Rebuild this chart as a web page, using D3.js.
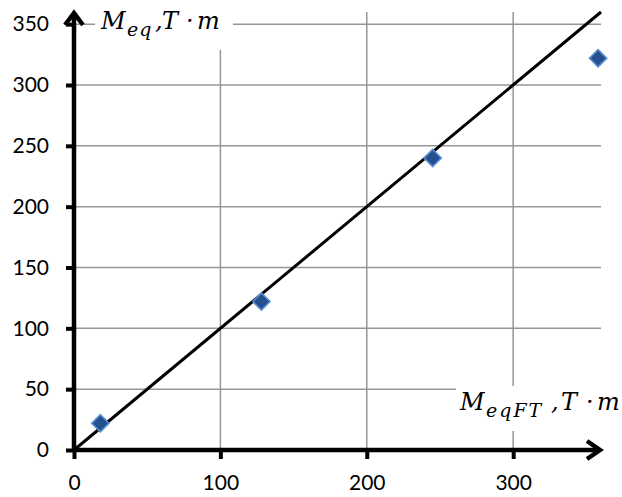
<!DOCTYPE html>
<html>
<head>
<meta charset="utf-8">
<script src="https://cdn.jsdelivr.net/npm/d3@7"></script>
<style>
  body { margin: 0; background: #fff; }
  .tick text { font-family: Lato, sans-serif; font-size: 21px; fill: #000; }
  .lbl { font-family: "DejaVu Serif", serif; font-style: italic; fill: #000; }
</style>
</head>
<body>
<div id="chart"></div>
<script>
'use strict';

// measured points (M_eqFT, M_eq)
var xVals = [18, 128, 245, 358];
var yVals = [22, 122, 240, 322];
// reference line y = x
var refLine = [0, 360];
var xTicks = [0, 100, 200, 300];
var yTicks = [0, 50, 100, 150, 200, 250, 300, 350];

var W = 622, H = 497;
var pL = 74, pR = 601, pT = 12, pB = 450;

var x = d3.scaleLinear().domain([0, 360]).range([pL, pR]);
var y = d3.scaleLinear().domain([0, 360]).range([pB, pT]);

var svg = d3.select('#chart').append('svg')
    .attr('width', W)
    .attr('height', H);

// grid
svg.append('g').selectAll('line')
    .data(yTicks.filter(function(d) { return d > 0; }))
  .enter().append('line')
    .attr('x1', pL).attr('x2', pR)
    .attr('y1', function(d) { return y(d); })
    .attr('y2', function(d) { return y(d); })
    .attr('stroke', '#969696').attr('stroke-width', 1.5);

svg.append('g').selectAll('line')
    .data(xTicks.filter(function(d) { return d > 0; }))
  .enter().append('line')
    .attr('y1', pT).attr('y2', pB)
    .attr('x1', function(d) { return x(d); })
    .attr('x2', function(d) { return x(d); })
    .attr('stroke', '#969696').attr('stroke-width', 1.5);

// white boxes behind the axis titles
svg.append('rect').attr('x', 95).attr('y', 0).attr('width', 138).attr('height', 50).attr('fill', '#fff');
svg.append('rect').attr('x', 456).attr('y', 386).attr('width', 166).attr('height', 45).attr('fill', '#fff');

// y = x line
svg.append('line')
    .attr('x1', x(refLine[0])).attr('y1', y(refLine[0]))
    .attr('x2', x(refLine[1])).attr('y2', y(refLine[1]))
    .attr('stroke', '#000').attr('stroke-width', 3);

// points
var diamond = d3.symbol().type(d3.symbolSquare).size(150);
svg.append('g').selectAll('path')
    .data(xVals)
  .enter().append('path')
    .attr('d', diamond)
    .attr('transform', function(d, i) { return 'translate(' + x(d) + ',' + y(yVals[i]) + ') rotate(45)'; })
    .attr('fill', '#24518E')
    .attr('stroke', '#5B8FD2')
    .attr('stroke-width', 1.6);

// axes with ticks
var xAxis = d3.axisBottom(x).tickValues(xTicks).tickSize(9).tickPadding(16);
var yAxis = d3.axisLeft(y).tickValues(yTicks).tickSize(8).tickPadding(17);

var gx = svg.append('g').attr('transform', 'translate(0,' + pB + ')').call(xAxis);
var gy = svg.append('g').attr('transform', 'translate(' + pL + ',0)').call(yAxis);
[gx, gy].forEach(function(g) {
  g.select('.domain').remove();
  g.selectAll('.tick line').attr('stroke', '#000').attr('stroke-width', 4);
});
gx.selectAll('.tick text').attr('dy', '0.71em');

// thick axis lines + arrows
svg.append('line').attr('x1', pL).attr('y1', pB).attr('x2', pR - 1).attr('y2', pB)
    .attr('stroke', '#000').attr('stroke-width', 4.5);
svg.append('line').attr('x1', pL).attr('y1', pB).attr('x2', pL).attr('y2', pT + 1)
    .attr('stroke', '#000').attr('stroke-width', 4.5);
svg.append('path')
    .attr('d', 'M' + (pR - 14) + ',' + (pB - 9) + 'L' + (pR - 1) + ',' + pB + 'L' + (pR - 14) + ',' + (pB + 9))
    .attr('fill', 'none').attr('stroke', '#000').attr('stroke-width', 4.5).attr('stroke-linejoin', 'miter');
svg.append('path')
    .attr('d', 'M' + (pL - 9) + ',' + (pT + 13) + 'L' + pL + ',' + (pT + 1) + 'L' + (pL + 9) + ',' + (pT + 13))
    .attr('fill', 'none').attr('stroke', '#000').attr('stroke-width', 4.5).attr('stroke-linejoin', 'miter');

// axis titles
function title(px, py, sub, ls, parts) {
  var t = svg.append('text').attr('class', 'lbl').attr('y', py);
  t.append('tspan').attr('x', px).attr('font-size', 24).text('M');
  t.append('tspan').attr('x', px + 26).attr('dy', 7).attr('font-size', 19).attr('letter-spacing', ls).text(sub);
  t.append('tspan').attr('x', parts[0]).attr('dy', -7).attr('font-size', 24).text(',');
  t.append('tspan').attr('x', parts[1]).attr('font-size', 24).text('T');
  t.append('tspan').attr('x', parts[2]).attr('font-size', 24).text('\u00B7');
  t.append('tspan').attr('x', parts[3]).attr('font-size', 24).text('m');
}
title(101, 29, 'eq', 1, [155, 162, 186, 197]);
title(460, 410, 'eqFT', 2, [551, 561, 586, 597]);
</script>
</body>
</html>
